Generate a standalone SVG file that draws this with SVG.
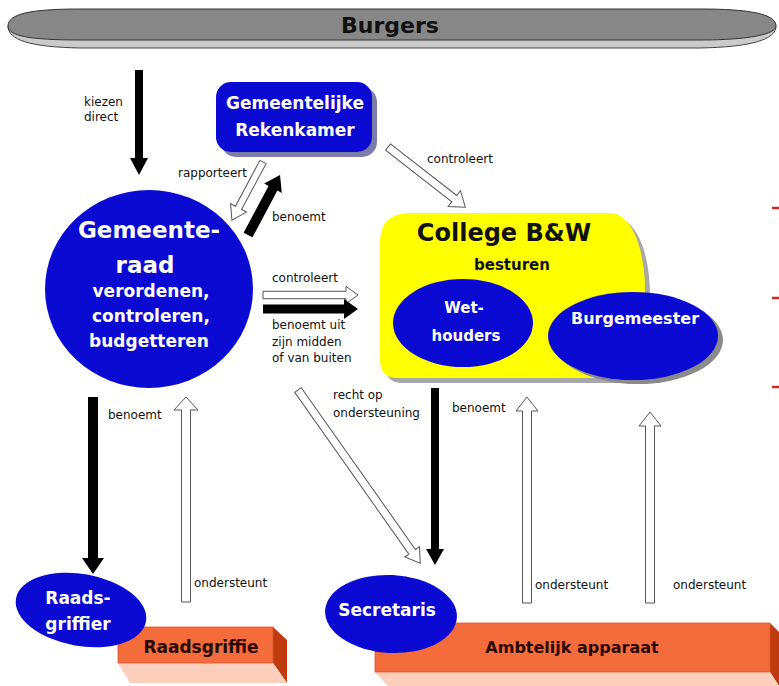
<svg xmlns="http://www.w3.org/2000/svg" width="779" height="686" viewBox="0 0 779 686">
<style>
text{font-family:"DejaVu Sans","Liberation Sans",sans-serif}
.lbl{font-size:12px;fill:#111}
.wb{font-weight:bold;fill:#fff;text-anchor:middle}
.db{font-weight:bold;fill:#2a0800;text-anchor:middle}
.blue{fill:#0a0ad2}
.shd{fill:#8a8a8a}
.wa{fill:#fff;stroke:#555;stroke-width:1}
.ba{fill:#000}
.front{fill:#f46c3c;stroke:#d85a2c;stroke-width:0.8}
.side{fill:#c03a10}
.bottom{fill:#fccfbd}
.red{stroke:#d02828;stroke-width:2.5}
</style>
<rect width="779" height="686" fill="#fff"/>

<g id="burgers">
<path d="M8,26 C8,40 30,47 80,48 L700,48 C750,47 776,40 776,26 Z" fill="#cbcbcb" stroke="#444" stroke-width="1"/>
<path d="M8,26 C8,14 30,9 80,9 L700,9 C750,9 776,14 776,26 C776,34 750,40 700,40 L80,40 C30,40 8,36 8,26 Z" fill="#878787" stroke="#333" stroke-width="1"/>
<text x="390" y="33" class="db" style="font-size:22px;fill:#111">Burgers</text>
</g>

<g id="rekenkamer">
<rect x="221" y="87" width="156" height="70" rx="15" fill="#7c7caa"/>
<rect x="216" y="82" width="156" height="70" rx="15" class="blue"/>
<text x="295" y="109" class="wb" style="font-size:17px">Gemeentelijke</text>
<text x="295" y="136" class="wb" style="font-size:17px">Rekenkamer</text>
</g>

<g id="gemeenteraad">
<ellipse cx="149" cy="289" rx="104" ry="99" class="blue"/>
<text x="149" y="238" class="wb" style="font-size:23px">Gemeente-</text>
<text x="145" y="273" class="wb" style="font-size:23px">raad</text>
<text x="151" y="297" class="wb" style="font-size:17px">verordenen,</text>
<text x="151" y="322" class="wb" style="font-size:17px">controleren,</text>
<text x="149" y="347" class="wb" style="font-size:17px">budgetteren</text>
</g>

<g id="college">
<path d="M410,213 H610 C632,213 645,250 645,290 V378 H398 Q380,378 380,360 V243 Q380,213 410,213 Z" transform="translate(5,5)" fill="#a8a8a8"/>
<path d="M410,213 H610 C632,213 645,250 645,290 V378 H398 Q380,378 380,360 V243 Q380,213 410,213 Z" fill="#ffff00"/>
<text x="504" y="241" class="db" style="font-size:24px;fill:#111">College B&amp;W</text>
<text x="512" y="270" class="db" style="font-size:15px;fill:#111">besturen</text>
</g>

<g id="wethouders">
<ellipse cx="463" cy="323" rx="70" ry="44" class="blue"/>
<text x="464" y="313" class="wb" style="font-size:15px">Wet-</text>
<text x="466" y="341" class="wb" style="font-size:15px">houders</text>
</g>

<g id="burgemeester">
<ellipse cx="638" cy="340" rx="85" ry="44" class="shd"/>
<ellipse cx="633" cy="336" rx="85" ry="44" class="blue"/>
<text x="635" y="324" class="wb" style="font-size:16px">Burgemeester</text>
</g>

<g id="raadsgriffie">
<polygon points="273,627 287,640 287,683 273,663" class="side"/>
<polygon points="118,663 273,663 287,683 130,683" class="bottom"/>
<rect x="118" y="627" width="155" height="36" class="front"/>
<text x="201" y="653" class="db" style="font-size:17px">Raadsgriffie</text>
</g>

<g id="raadsgriffier">
<ellipse cx="81" cy="610" rx="66" ry="36" transform="rotate(10 81 610)" class="blue"/>
<text x="78" y="604" class="wb" style="font-size:17px">Raads-</text>
<text x="78" y="630" class="wb" style="font-size:17px">griffier</text>
</g>

<g id="ambtelijk-apparaat">
<polygon points="770,623 779,632 779,686 770,672" class="side"/>
<polygon points="375,672 770,672 779,686 388,686" class="bottom"/>
<rect x="375" y="623" width="395" height="49" class="front"/>
<text x="572" y="653" class="db" style="font-size:16px">Ambtelijk apparaat</text>
</g>

<g id="secretaris">
<ellipse cx="391" cy="614" rx="66" ry="39" transform="rotate(3 391 614)" class="blue"/>
<text x="387" y="616" class="wb" style="font-size:17px">Secretaris</text>
</g>

<g id="connectors">
<path class="ba" transform="translate(139,70) rotate(90)" d="M0,-4 H88 V-9 L105,0 L88,9 V4 H0 Z"/>
<path class="wa" transform="translate(263,162) rotate(118.1)" d="M0,-3.5 H52 V-9 L66,0 L52,9 V3.5 H0 Z"/>
<path class="ba" transform="translate(248,235) rotate(-61.9)" d="M0,-5 H53 V-10 L68,0 L53,10 V5 H0 Z"/>
<path class="wa" transform="translate(388,147) rotate(37.9)" d="M0,-4 H84 V-10 L98,0 L84,10 V4 H0 Z"/>
<path class="wa" transform="translate(263,295)" d="M0,-3.7 H83 V-8.7 L95,0 L83,8.7 V3.7 H0 Z"/>
<path class="ba" transform="translate(263,309)" d="M0,-4.5 H81 V-10 L95,0 L81,10 V4.5 H0 Z"/>
<path class="ba" transform="translate(93,397) rotate(90)" d="M0,-5 H161 V-11 L177,0 L161,11 V5 H0 Z"/>
<path class="wa" transform="translate(186,602) rotate(-90)" d="M0,-4.5 H192 V-12 L205,0 L192,12 V4.5 H0 Z"/>
<path class="wa" transform="translate(298,390) rotate(54.8)" d="M0,-4 H198 V-9 L212,0 L198,9 V4 H0 Z"/>
<path class="ba" transform="translate(435,388) rotate(90)" d="M0,-4 H161 V-9 L177,0 L161,9 V4 H0 Z"/>
<path class="wa" transform="translate(527,603) rotate(-90)" d="M0,-4.5 H192 V-11 L206,0 L192,11 V4.5 H0 Z"/>
<path class="wa" transform="translate(650,603) rotate(-90)" d="M0,-4.5 H177 V-11 L191,0 L177,11 V4.5 H0 Z"/>
</g>

<g id="labels">
<text x="84" y="106" class="lbl">kiezen</text>
<text x="84" y="121" class="lbl">direct</text>
<text x="178" y="177" class="lbl">rapporteert</text>
<text x="272" y="221" class="lbl">benoemt</text>
<text x="427" y="163" class="lbl">controleert</text>
<text x="272" y="282" class="lbl">controleert</text>
<text x="272" y="329" class="lbl">benoemt uit</text>
<text x="272" y="346" class="lbl">zijn midden</text>
<text x="272" y="362" class="lbl">of van buiten</text>
<text x="108" y="419" class="lbl">benoemt</text>
<text x="194" y="587" class="lbl">ondersteunt</text>
<text x="333" y="399" class="lbl">recht op</text>
<text x="333" y="417" class="lbl">ondersteuning</text>
<text x="452" y="412" class="lbl">benoemt</text>
<text x="535" y="589" class="lbl">ondersteunt</text>
<text x="673" y="589" class="lbl">ondersteunt</text>
</g>

<g id="red-marks">
<line x1="772" y1="208" x2="779" y2="208" class="red"/>
<line x1="772" y1="298" x2="779" y2="298" class="red"/>
<line x1="772" y1="387" x2="779" y2="387" class="red"/>
</g>
</svg>
